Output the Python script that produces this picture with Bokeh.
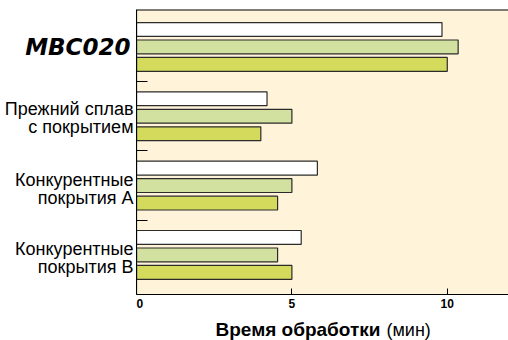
import numpy as np
from bokeh.plotting import figure
from bokeh.layouts import row, column
from bokeh.models import Range1d, FixedTicker, Span, ColumnDataSource
from bokeh.core.properties import value
from bokeh.embed import file_html
from bokeh.resources import INLINE

# ---- data ----
categories = ["MBC020", "Прежний сплав\nс покрытием", "Конкурентные\nпокрытия A", "Конкурентные\nпокрытия B"]
series_white = [9.83, 4.2, 5.82, 5.3]
series_light = [10.35, 5.0, 5.0, 4.54]
series_yellow = [10.0, 4.0, 4.54, 5.0]
x_ticks = [0, 5, 10]
x_label_bold = "Время обработки"
x_label_unit = "(мин)"

# ---- layout / style ----
n = len(categories)
centers = np.arange(n)[::-1].astype(float)   # top group = n-1
offs = [0.252, 0.0, -0.252]
bar_h = 0.2
colors = ["#FFFFFF", "#D2E0A0", "#D4DB5C"]
bg = "#FFF4DA"
TOP, FRAME_H, BOTTOM = 9, 285, 20
LAB_W = 136
MAIN_W = 508 - LAB_W
yr = Range1d(-0.571, 3.54)

# ---------------- main plot ----------------
p = figure(width=MAIN_W, height=TOP + FRAME_H + BOTTOM, output_backend="svg",
           toolbar_location=None, x_range=Range1d(0, 11.97), y_range=yr,
           min_border_left=0, min_border_top=TOP, min_border_bottom=BOTTOM,
           min_border_right=0)
p.background_fill_color = bg
p.border_fill_color = "white"
p.outline_line_color = None
p.grid.visible = False

for vals, off, col in zip([series_white, series_light, series_yellow], offs, colors):
    src = ColumnDataSource(dict(y=centers + off, right=vals))
    p.hbar(y="y", right="right", left=0, height=bar_h, source=src,
           fill_color=col, line_color="#2b2b2b", line_width=1.2)

xa = p.xaxis[0]
xa.ticker = FixedTicker(ticks=x_ticks)
xa.major_tick_in = 6
xa.major_tick_out = 0
xa.minor_tick_line_color = None
xa.axis_line_color = "black"
xa.axis_line_width = 1.2
xa.major_label_text_font = "Liberation Sans"
xa.major_label_text_font_style = "bold"
xa.major_label_text_font_size = "12px"
xa.major_label_text_color = "black"
xa.major_label_standoff = 4

ya = p.yaxis[0]
bounds = list((centers[:-1] + centers[1:]) / 2)
ya.ticker = FixedTicker(ticks=bounds)
ya.major_label_overrides = {b: "" for b in bounds}
ya.major_label_text_font_size = "0px"
ya.major_label_standoff = 0
ya.major_tick_in = 11
ya.major_tick_out = 0
ya.minor_tick_line_color = None
ya.axis_line_color = "black"
ya.axis_line_width = 1.2
ya.major_tick_line_color = "black"

p.add_layout(Span(location=yr.end, dimension="width", line_color="black", line_width=2))

# ---------------- category label panel ----------------
lab = figure(width=LAB_W, height=TOP + FRAME_H + BOTTOM, output_backend="svg",
             toolbar_location=None, x_range=Range1d(0, LAB_W), y_range=yr,
             x_axis_location=None, y_axis_location=None,
             min_border_left=0, min_border_right=0, min_border_top=TOP,
             min_border_bottom=BOTTOM)
lab.outline_line_color = None
lab.grid.visible = False
lab.background_fill_color = "white"

line_offsets = [None, (-7, 11), (-6, 12), (-6, 12)]
for cat, c, lo in zip(categories, centers, line_offsets):
    if "\n" not in cat:
        lab.text(x=[LAB_W - 6], y=[c], y_offset=0, text=[cat], text_align="right",
                 text_baseline="middle", text_font=value("DejaVu Sans"),
                 text_font_style="bold italic", text_font_size="23px",
                 text_color="black")
    else:
        for line, dy in zip(cat.split("\n"), lo):
            lab.text(x=[LAB_W - 3], y=[c], y_offset=dy, text=[line], text_align="right",
                     text_baseline="alphabetic", text_font=value("Liberation Sans"),
                     text_font_size="18px", text_color="black")

# ---------------- x axis title panel ----------------
tt = figure(width=508, height=340 - (TOP + FRAME_H + BOTTOM), output_backend="svg",
            toolbar_location=None, x_range=Range1d(0, 508), y_range=Range1d(0, 26),
            x_axis_location=None, y_axis_location=None, min_border=0)
tt.outline_line_color = None
tt.grid.visible = False
tt.text(x=[215], y=[11], text=[x_label_bold], text_align="left", text_baseline="alphabetic",
        text_font=value("Liberation Sans"), text_font_style="bold",
        text_font_size="19px", text_color="black")
tt.text(x=[386], y=[11], text=[x_label_unit], text_align="left", text_baseline="alphabetic",
        text_font=value("Liberation Sans"), text_font_size="18px", text_color="black")

layout = column(row(lab, p), tt)
open("out.html", "w").write(file_html(layout, INLINE))
